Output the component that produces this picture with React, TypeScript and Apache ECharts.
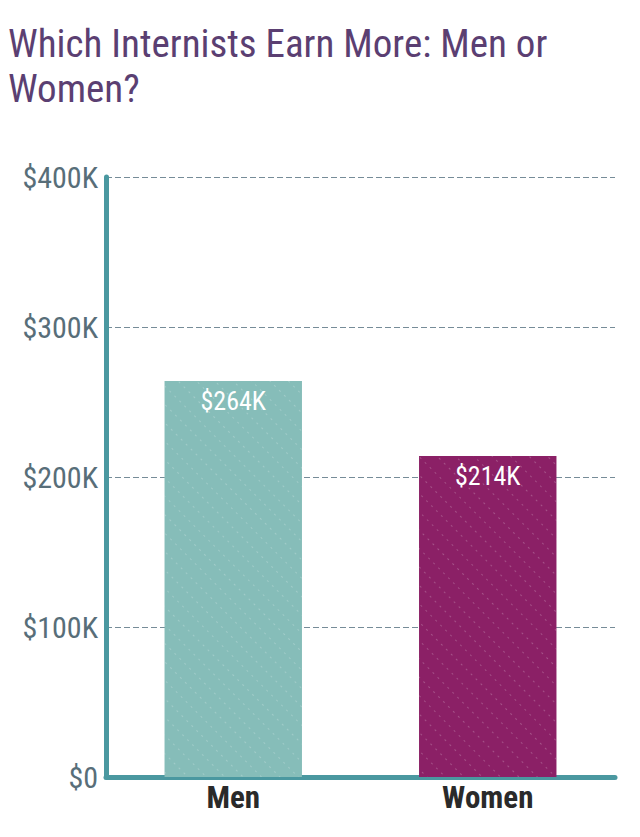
import React, { useEffect, useRef } from "react";
import * as echarts from "echarts";

const categories = ["Men", "Women"];
const values = [264, 214];
const valueLabels = ["$264K", "$214K"];
const barColors = ["#86bdb9", "#8b2066"];
const yTicks = [0, 100, 200, 300, 400];

const FONT = '"Roboto Condensed", "Liberation Sans Narrow", "DejaVu Sans Condensed", Roboto, sans-serif';

export default function App() {
  const ref = useRef<HTMLDivElement>(null);
  useEffect(() => {
    if (!ref.current) return;
    const chart = echarts.init(ref.current, null, { renderer: "svg" });
    chart.setOption({
      animation: false,
      title: {
        text: "Which Internists Earn More: Men or\nWomen?",
        left: 0,
        top: 13,
        padding: 0,
        textStyle: {
          fontFamily: FONT,
          fontSize: 39,
          fontWeight: "normal",
          color: "#5b3f72",
          lineHeight: 45,
        },
      },
      grid: { left: 98, right: 17, top: 169, bottom: 52, containLabel: false },
      xAxis: {
        type: "category",
        data: categories,
        axisLine: { show: true, lineStyle: { color: "#4a98a0", width: 5, cap: "round" } },
        axisTick: { show: false },
        axisLabel: {
          fontFamily: FONT,
          fontSize: 31,
          fontWeight: "bold",
          color: "#2a2a2a",
          margin: 5,
        },
      },
      yAxis: {
        type: "value",
        min: yTicks[0],
        max: yTicks[yTicks.length - 1],
        interval: 100,
        axisLine: { show: true, lineStyle: { color: "#4a98a0", width: 5, cap: "round" } },
        axisTick: { show: false },
        axisLabel: {
          fontFamily: FONT,
          fontSize: 30,
          color: "#586e79",
          margin: 8,
          formatter: (v: number) => (v === 0 ? "$0" : "$" + v + "K"),
        },
        splitLine: {
          show: true,
          lineStyle: { color: "#768c98", width: 1.2, type: [6, 3] },
        },
      },
      series: [
        {
          type: "bar",
          barWidth: "54%",
          data: values.map((v, i) => ({
            value: v,
            itemStyle: {
              color: barColors[i],
              decal: {
                symbol: "rect",
                color: "rgba(255,255,255,0.22)",
                dashArrayX: [2, 5],
                dashArrayY: [1, 12],
                rotation: Math.PI / 4,
              },
            },
            label: { formatter: valueLabels[i] },
          })),
          label: {
            show: true,
            position: "insideTop",
            distance: 7,
            fontFamily: FONT,
            fontSize: 26,
            color: "#ffffff",
          },
        },
      ],
    });
    return () => chart.dispose();
  }, []);
  return <div ref={ref} style={{ width: 624, height: 821 }} />;
}
